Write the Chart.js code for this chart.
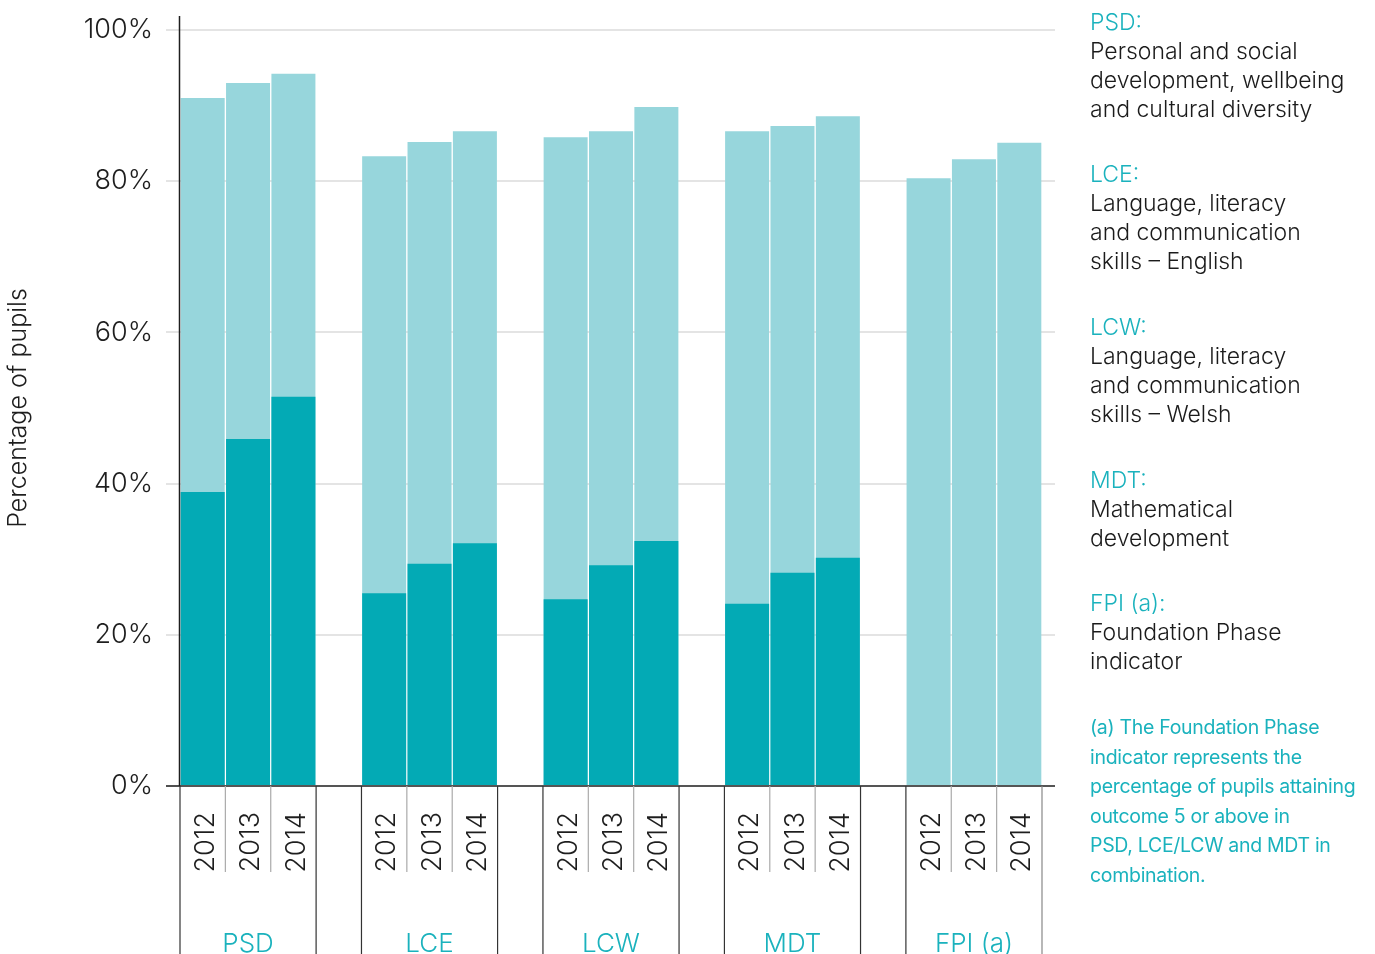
<!DOCTYPE html>
<html>
<head>
<meta charset="utf-8">
<script src="https://cdn.jsdelivr.net/npm/chart.js@4.4.0/dist/chart.umd.min.js"></script>
<style>
  html, body { margin: 0; padding: 0; background: #fff; }
  #wrap { position: relative; width: 1375px; height: 954px; overflow: hidden; }
  #chart { position: absolute; left: 0; top: 0; }
  .key { position: absolute; left: 1090px; font-family: Inter, 'Noto Sans', sans-serif; font-weight: 300;
         font-size: 23px; line-height: 29px; color: #1b1b1b; white-space: nowrap; }
  .key .code { color: #1ab2bd; }
  .note { position: absolute; left: 1090px; top: 713px; font-family: Inter, 'Noto Sans', sans-serif;
          font-size: 19.5px; line-height: 29.5px; color: #1ab2bd; white-space: nowrap; letter-spacing: -0.3px; }
</style>
</head>
<body>
<div id="wrap">
  <canvas id="chart" width="1375" height="954"></canvas>
  <div class="key" style="top:8px"><div class="code">PSD:</div>Personal and social<br>development, wellbeing<br>and cultural diversity</div>
  <div class="key" style="top:160px"><div class="code">LCE:</div>Language, literacy<br>and communication<br>skills – English</div>
  <div class="key" style="top:313px"><div class="code">LCW:</div>Language, literacy<br>and communication<br>skills – Welsh</div>
  <div class="key" style="top:466px"><div class="code">MDT:</div>Mathematical<br>development</div>
  <div class="key" style="top:589px"><div class="code">FPI (a):</div>Foundation Phase<br>indicator</div>
  <div class="note">(a) The Foundation Phase<br>indicator represents the<br>percentage of pupils attaining<br>outcome 5 or above in<br>PSD, LCE/LCW and MDT in<br>combination.</div>
</div>
<script>
const groups = ['PSD', 'LCE', 'LCW', 'MDT', 'FPI (a)'];
const years = ['2012', '2013', '2014'];
// outcome 5+ (whole bar) and outcome 6+ (darker part), one value per group/year
const outcome5 = [91.0, 93.0, 94.2, 83.3, 85.2, 86.6, 85.8, 86.6, 89.8, 86.6, 87.3, 88.6, 80.4, 82.9, 85.1];
const outcome6 = [38.9, 45.9, 51.5, 25.5, 29.4, 32.1, 24.7, 29.2, 32.4, 24.1, 28.2, 30.2, null, null, null];
const yTicks = [0, 20, 40, 60, 80, 100];

const LIGHT = '#97d6dc';
const DARK = '#03aab5';
const TEAL_TEXT = '#1ab2bd';
const FONT = 'Inter, "Noto Sans", sans-serif';

// one empty slot between groups
const labels = [], groupOf = [], d5 = [], d6 = [];
groups.forEach((g, gi) => {
  years.forEach((y, yi) => {
    labels.push(y);
    groupOf.push(gi);
    d5.push(outcome5[gi * 3 + yi]);
    d6.push(outcome6[gi * 3 + yi]);
  });
  if (gi < groups.length - 1) {
    labels.push('');
    groupOf.push(-1);
    d5.push(null);
    d6.push(null);
  }
});

const gridPlugin = {
  id: 'grid',
  beforeDatasetsDraw(chart) {
    const { ctx, chartArea, scales } = chart;
    ctx.save();
    ctx.strokeStyle = '#e4e4e4';
    ctx.lineWidth = 2;
    yTicks.forEach(v => {
      if (v === 0) return;
      const y = Math.round(scales.y.getPixelForValue(v));
      ctx.beginPath();
      ctx.moveTo(chartArea.left, y);
      ctx.lineTo(chartArea.right + 13, y);
      ctx.stroke();
    });
    ctx.restore();
  },
  afterDatasetsDraw(chart) {
    const { ctx, chartArea, scales } = chart;
    const x = scales.x;
    const base = scales.y.getPixelForValue(0);
    const slot = x.getPixelForValue(1) - x.getPixelForValue(0);
    const bottom = chart.height;
    ctx.save();

    // axis lines
    ctx.strokeStyle = '#1e1e1e';
    ctx.lineWidth = 1.5;
    ctx.beginPath();
    ctx.moveTo(chartArea.left - 0.5, 16);
    ctx.lineTo(chartArea.left - 0.5, base);
    ctx.moveTo(chartArea.left - 14, base);
    ctx.lineTo(chartArea.right + 13, base);
    ctx.stroke();

    labels.forEach((lab, i) => {
      if (groupOf[i] < 0) return;
      const cx = x.getPixelForValue(i);
      const left = cx - slot / 2, right = cx + slot / 2;
      const yi = i - (groupOf[i] * 4);

      // separators under the axis
      ctx.lineWidth = 1.2;
      if (yi === 0) {
        ctx.strokeStyle = '#333';
        ctx.beginPath(); ctx.moveTo(left, base); ctx.lineTo(left, bottom); ctx.stroke();
      } else {
        ctx.strokeStyle = '#aaa';
        ctx.beginPath(); ctx.moveTo(left, base); ctx.lineTo(left, base + 86); ctx.stroke();
      }
      if (yi === 2) {
        ctx.strokeStyle = groupOf[i] === groups.length - 1 ? '#888' : '#333';
        ctx.beginPath(); ctx.moveTo(right, base); ctx.lineTo(right, bottom); ctx.stroke();
      }

      // year label, reading upwards
      ctx.save();
      ctx.translate(cx + 3, base + 26);
      ctx.rotate(-Math.PI / 2);
      ctx.font = '300 27px ' + FONT;
      ctx.fillStyle = '#1e1e1e';
      ctx.textAlign = 'right';
      ctx.textBaseline = 'middle';
      ctx.fillText(lab, 0, 0);
      ctx.restore();

      // group name under the middle year
      if (yi === 1) {
        ctx.font = '300 26px ' + FONT;
        ctx.fillStyle = TEAL_TEXT;
        ctx.textAlign = 'center';
        ctx.textBaseline = 'alphabetic';
        ctx.fillText(groups[groupOf[i]], cx, 952);
      }
    });
    ctx.restore();
  }
};

new Chart(document.getElementById('chart'), {
  type: 'bar',
  data: {
    labels: labels,
    datasets: [
      {
        label: 'Outcome 6 or above',
        data: d6,
        backgroundColor: DARK,
        grouped: false,
        barPercentage: 0.97,
        categoryPercentage: 1
      },
      {
        label: 'Outcome 5 or above',
        data: d5,
        backgroundColor: LIGHT,
        grouped: false,
        barPercentage: 0.97,
        categoryPercentage: 1
      }
    ]
  },
  options: {
    responsive: false,
    animation: false,
    layout: { padding: { top: 30, right: 333, bottom: 168, left: 0 } },
    plugins: {
      legend: { display: false },
      tooltip: { enabled: false }
    },
    scales: {
      x: { display: false },
      y: {
        min: 0,
        max: 100,
        afterFit(scale) { scale.width = 180; },
        afterBuildTicks(scale) { scale.ticks = yTicks.map(v => ({ value: v })); },
        border: { display: false },
        grid: { display: true, drawOnChartArea: false, drawTicks: true, tickLength: 14, color: '#e4e4e4', lineWidth: 2 },
        ticks: {
          padding: 13,
          color: '#1e1e1e',
          font: { family: FONT, size: 27, weight: 300 },
          callback: v => v + '%'
        },
        title: {
          display: true,
          text: 'Percentage of pupils',
          color: '#1e1e1e',
          font: { family: FONT, size: 25, weight: 300 },
          padding: { top: 3, bottom: 4 }
        }
      }
    }
  },
  plugins: [gridPlugin]
});
</script>
</body>
</html>
